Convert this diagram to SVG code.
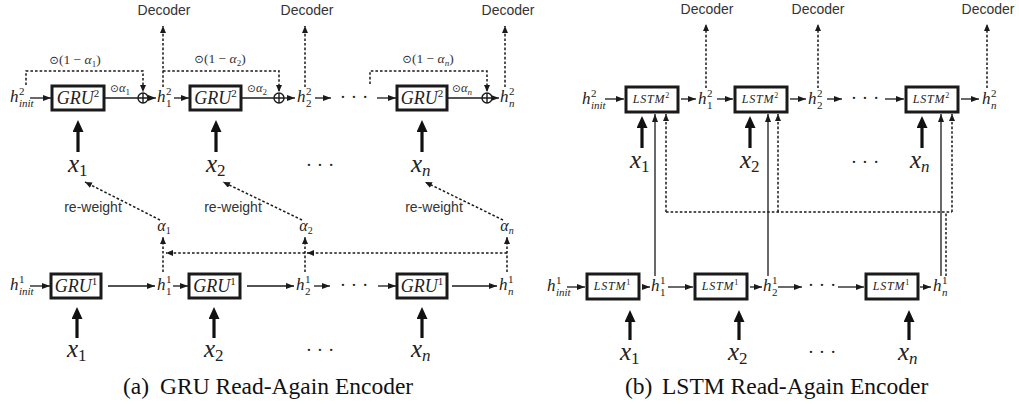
<svg xmlns="http://www.w3.org/2000/svg" width="1019" height="404" viewBox="0 0 1019 404">
<style>
.bg{fill:#fff}
.box{fill:#fff;stroke:#1a1a1a;stroke-width:3}
.ln{fill:none;stroke:#1a1a1a;stroke-width:1.3}
.dl{fill:none;stroke:#1a1a1a;stroke-width:1.5;stroke-dasharray:2.6 2}
.tk{fill:none;stroke:#111;stroke-width:3.2}
.op{fill:#fff;stroke:#1a1a1a;stroke-width:1.4}
text{fill:#222}
.m{font-family:"Liberation Serif",serif;font-style:italic;font-size:17px}
.sp{font-family:"Liberation Serif",serif;font-style:normal;font-size:11px}
.spi{font-family:"Liberation Serif",serif;font-style:italic;font-size:11px}
.bx{font-family:"Liberation Serif",serif;font-style:italic;font-size:18px;text-anchor:middle}
.bxs{font-style:normal;font-size:11px}
.ls{font-family:"Liberation Serif",serif;font-style:italic;font-size:12px;letter-spacing:0.8px;text-anchor:middle}
.lss{font-style:normal;font-size:8px;letter-spacing:0}
.xv{font-family:"Liberation Serif",serif;font-style:italic;font-size:25px}
.xs{font-style:normal;font-size:17px}
.xsi{font-style:italic;font-size:17px}
.sans{font-family:"Liberation Sans",Arial,sans-serif;font-size:14px;fill:#333;text-anchor:middle}
.lab{font-family:"Liberation Serif",serif;font-size:13.5px;fill:#333;text-anchor:middle}
.lab2{font-family:"Liberation Serif",serif;font-size:12.5px;fill:#333}
.dj{font-family:"DejaVu Sans",sans-serif;font-size:0.85em}
.it{font-style:italic}
.sub{font-size:9px}
.al{font-family:"Liberation Serif",serif;font-style:italic;font-size:16px;text-anchor:middle}
.als{font-style:normal;font-size:10px}
.alsi{font-style:italic;font-size:10px}
.dots{font-family:"Liberation Serif",serif;font-size:19px;text-anchor:middle}
.cap{font-family:"Liberation Serif","Times New Roman",serif;font-size:23.5px;fill:#111}
</style>
<defs>
<marker id="ah" viewBox="0 0 8 6" refX="8" refY="3" markerWidth="8" markerHeight="6" orient="auto" markerUnits="userSpaceOnUse"><path d="M0,0 L8,3 L0,6 z" fill="#1a1a1a"/></marker>
<marker id="ahd" viewBox="0 0 7 6" refX="7" refY="3" markerWidth="7" markerHeight="6" orient="auto" markerUnits="userSpaceOnUse"><path d="M0,0 L7,3 L0,6 z" fill="#1a1a1a"/></marker>
<marker id="aht" viewBox="0 0 12 11" refX="1" refY="5.5" markerWidth="12" markerHeight="11" orient="auto" markerUnits="userSpaceOnUse"><path d="M0,0 L12,5.5 L0,11 z" fill="#111"/></marker>
</defs>
<rect class="bg" x="0" y="0" width="1019" height="404"/>

<g id="connectors">
<!-- (a) top row -->
<path class="ln" d="M30,98 H51" marker-end="url(#ah)"/>
<path class="ln" d="M104,98 H138"/>
<path class="ln" d="M148,98 H156" marker-end="url(#ah)"/>
<path class="ln" d="M174,98 H189" marker-end="url(#ah)"/>
<path class="ln" d="M241,98 H274"/>
<path class="ln" d="M284,98 H295" marker-end="url(#ah)"/>
<path class="ln" d="M315,98 H331" marker-end="url(#ah)"/>
<path class="ln" d="M377,98 H396" marker-end="url(#ah)"/>
<path class="ln" d="M447,98 H482"/>
<path class="ln" d="M492,98 H499" marker-end="url(#ah)"/>
<path class="dl" d="M26,85 V71 H143 V92" marker-end="url(#ahd)"/>
<path class="dl" d="M163,71 H279 V92" marker-end="url(#ahd)"/>
<path class="dl" d="M370,84 V71 H487 V92" marker-end="url(#ahd)"/>
<path class="dl" d="M163,87 V26" marker-end="url(#ahd)"/>
<path class="dl" d="M305,87 V26" marker-end="url(#ahd)"/>
<path class="dl" d="M505,87 V26" marker-end="url(#ahd)"/>
<path class="tk" d="M78,152 V131" marker-end="url(#aht)"/>
<path class="tk" d="M216,152 V131" marker-end="url(#aht)"/>
<path class="tk" d="M422,152 V131" marker-end="url(#aht)"/>
<!-- (a) attention -->
<path class="dl" d="M163,272 V237" marker-end="url(#ahd)"/>
<path class="dl" d="M305,272 V237" marker-end="url(#ahd)"/>
<path class="dl" d="M507,272 V237" marker-end="url(#ahd)"/>
<path class="dl" d="M507,253 H307" marker-end="url(#ahd)"/>
<path class="dl" d="M305,253 H166" marker-end="url(#ahd)"/>
<path class="dl" d="M160,220 L85,182" marker-end="url(#ahd)"/>
<path class="dl" d="M302,220 L223,182" marker-end="url(#ahd)"/>
<path class="dl" d="M503,220 L425,182" marker-end="url(#ahd)"/>
<!-- (a) bottom row -->
<path class="ln" d="M30,286 H50" marker-end="url(#ah)"/>
<path class="ln" d="M108,286 H155" marker-end="url(#ah)"/>
<path class="ln" d="M173,286 H188" marker-end="url(#ah)"/>
<path class="ln" d="M247,286 H294" marker-end="url(#ah)"/>
<path class="ln" d="M314,286 H330" marker-end="url(#ah)"/>
<path class="ln" d="M378,286 H396" marker-end="url(#ah)"/>
<path class="ln" d="M452,286 H497" marker-end="url(#ah)"/>
<path class="tk" d="M77,338 V318" marker-end="url(#aht)"/>
<path class="tk" d="M214,338 V318" marker-end="url(#aht)"/>
<path class="tk" d="M422,338 V318" marker-end="url(#aht)"/>
<!-- (b) top row -->
<path class="ln" d="M605,99 H624" marker-end="url(#ah)"/>
<path class="ln" d="M681,99 H696" marker-end="url(#ah)"/>
<path class="ln" d="M717,99 H733" marker-end="url(#ah)"/>
<path class="ln" d="M790,99 H806" marker-end="url(#ah)"/>
<path class="ln" d="M827,99 H842" marker-end="url(#ah)"/>
<path class="ln" d="M885,99 H904" marker-end="url(#ah)"/>
<path class="ln" d="M961,99 H979" marker-end="url(#ah)"/>
<path class="dl" d="M706,88 V24" marker-end="url(#ahd)"/>
<path class="dl" d="M818,88 V24" marker-end="url(#ahd)"/>
<path class="dl" d="M987,88 V24" marker-end="url(#ahd)"/>
<path class="tk" d="M642,148 V127" marker-end="url(#aht)"/>
<path class="tk" d="M750,148 V127" marker-end="url(#aht)"/>
<path class="tk" d="M922,148 V127" marker-end="url(#aht)"/>
<path class="ln" d="M655,276 V114" marker-end="url(#ah)"/>
<path class="ln" d="M768,276 V114" marker-end="url(#ah)"/>
<path class="ln" d="M941,276 V114" marker-end="url(#ah)"/>
<path class="dl" d="M666,212 H952"/>
<path class="dl" d="M666,212 V114" marker-end="url(#ahd)"/>
<path class="dl" d="M778,212 V114" marker-end="url(#ahd)"/>
<path class="dl" d="M952,212 V114" marker-end="url(#ahd)"/>
<path class="dl" d="M946,276 V212"/>
<!-- (b) bottom row -->
<path class="ln" d="M567,287 H585" marker-end="url(#ah)"/>
<path class="ln" d="M642,287 H650" marker-end="url(#ah)"/>
<path class="ln" d="M668,287 H693" marker-end="url(#ah)"/>
<path class="ln" d="M750,287 H762" marker-end="url(#ah)"/>
<path class="ln" d="M778,287 H802" marker-end="url(#ah)"/>
<path class="ln" d="M838,287 H864" marker-end="url(#ah)"/>
<path class="ln" d="M920,287 H931" marker-end="url(#ah)"/>
<path class="tk" d="M630,340 V321" marker-end="url(#aht)"/>
<path class="tk" d="M739,340 V321" marker-end="url(#aht)"/>
<path class="tk" d="M909,340 V321" marker-end="url(#aht)"/>
</g>

<!-- ===== (a) GRU ===== -->
<g id="a-hinit2"><text class="m" x="10" y="102">h<tspan class="sp" x="19" y="95">2</tspan><tspan class="spi" x="19" y="107">init</tspan></text></g>
<g id="a-gru2-1"><rect class="box" x="52" y="86" width="52" height="24"/><text class="bx" x="78" y="104">GRU<tspan class="bxs" dy="-7">2</tspan></text></g>
<g id="a-gru2-2"><rect class="box" x="190" y="86" width="51" height="24"/><text class="bx" x="215.5" y="104">GRU<tspan class="bxs" dy="-7">2</tspan></text></g>
<g id="a-gru2-3"><rect class="box" x="397" y="86" width="50" height="24"/><text class="bx" x="422" y="104">GRU<tspan class="bxs" dy="-7">2</tspan></text></g>
<g id="a-plus1"><circle class="op" cx="143" cy="98" r="5"/><path class="op" d="M138,98 H148 M143,93 V103"/></g>
<g id="a-plus2"><circle class="op" cx="279" cy="98" r="5"/><path class="op" d="M274,98 H284 M279,93 V103"/></g>
<g id="a-plusn"><circle class="op" cx="487" cy="98" r="5"/><path class="op" d="M482,98 H492 M487,93 V103"/></g>
<g id="a-h12"><text class="m" x="157" y="102">h<tspan class="sp" x="166" y="95">2</tspan><tspan class="sp" x="166" y="107">1</tspan></text></g>
<g id="a-h22"><text class="m" x="297" y="102">h<tspan class="sp" x="306" y="95">2</tspan><tspan class="sp" x="306" y="107">2</tspan></text></g>
<g id="a-hn2"><text class="m" x="500" y="102">h<tspan class="sp" x="509" y="95">2</tspan><tspan class="spi" x="509" y="107">n</tspan></text></g>
<g id="a-dots-top"><text class="dots" x="354" y="103">· · ·</text></g>
<g id="a-lab-w1"><text class="lab2" x="110" y="92"><tspan class="dj">⊙</tspan><tspan class="it">α</tspan><tspan class="sub" dy="2.5">1</tspan></text></g>
<g id="a-lab-w2"><text class="lab2" x="247" y="92"><tspan class="dj">⊙</tspan><tspan class="it">α</tspan><tspan class="sub" dy="2.5">2</tspan></text></g>
<g id="a-lab-wn"><text class="lab2" x="452" y="92"><tspan class="dj">⊙</tspan><tspan class="it">α</tspan><tspan class="sub it" dy="2.5">n</tspan></text></g>
<g id="a-lab-c1"><text class="lab" x="75" y="64"><tspan class="dj">⊙</tspan>(1 − <tspan class="it">α</tspan><tspan class="sub" dy="3">1</tspan><tspan dy="-3">)</tspan></text></g>
<g id="a-lab-c2"><text class="lab" x="220" y="63"><tspan class="dj">⊙</tspan>(1 − <tspan class="it">α</tspan><tspan class="sub" dy="3">2</tspan><tspan dy="-3">)</tspan></text></g>
<g id="a-lab-cn"><text class="lab" x="428" y="63"><tspan class="dj">⊙</tspan>(1 − <tspan class="it">α</tspan><tspan class="sub it" dy="3">n</tspan><tspan dy="-3">)</tspan></text></g>
<g id="a-dec1"><text class="sans" x="164" y="15">Decoder</text></g>
<g id="a-dec2"><text class="sans" x="307" y="15">Decoder</text></g>
<g id="a-decn"><text class="sans" x="508" y="15">Decoder</text></g>
<g id="a-x1t"><text class="xv" x="68" y="172">x<tspan class="xs" dy="4">1</tspan></text></g>
<g id="a-x2t"><text class="xv" x="206" y="172">x<tspan class="xs" dy="4">2</tspan></text></g>
<g id="a-xnt"><text class="xv" x="411" y="172">x<tspan class="xsi" dy="4">n</tspan></text></g>
<g id="a-dots-x"><text class="dots" x="320" y="171">· · ·</text></g>
<g id="a-rw1"><text class="sans" x="93" y="212">re-weight</text></g>
<g id="a-rw2"><text class="sans" x="233" y="212">re-weight</text></g>
<g id="a-rwn"><text class="sans" x="434" y="212">re-weight</text></g>
<g id="a-al1"><text class="al" x="164" y="231">α<tspan class="als" dy="3">1</tspan></text></g>
<g id="a-al2"><text class="al" x="306" y="231">α<tspan class="als" dy="3">2</tspan></text></g>
<g id="a-aln"><text class="al" x="507" y="231">α<tspan class="alsi" dy="3">n</tspan></text></g>
<g id="a-hinit1"><text class="m" x="10" y="290">h<tspan class="sp" x="19" y="283">1</tspan><tspan class="spi" x="19" y="295">init</tspan></text></g>
<g id="a-gru1-1"><rect class="box" x="51" y="274" width="50" height="24"/><text class="bx" x="76" y="292">GRU<tspan class="bxs" dy="-7">1</tspan></text></g>
<g id="a-gru1-2"><rect class="box" x="189" y="274" width="51" height="24"/><text class="bx" x="214.5" y="292">GRU<tspan class="bxs" dy="-7">1</tspan></text></g>
<g id="a-gru1-3"><rect class="box" x="397" y="274" width="50" height="24"/><text class="bx" x="422" y="292">GRU<tspan class="bxs" dy="-7">1</tspan></text></g>
<g id="a-h11"><text class="m" x="157" y="290">h<tspan class="sp" x="166" y="283">1</tspan><tspan class="sp" x="166" y="295">1</tspan></text></g>
<g id="a-h21"><text class="m" x="296" y="290">h<tspan class="sp" x="305" y="283">1</tspan><tspan class="sp" x="305" y="295">2</tspan></text></g>
<g id="a-hn1"><text class="m" x="499" y="290">h<tspan class="sp" x="508" y="283">1</tspan><tspan class="spi" x="508" y="295">n</tspan></text></g>
<g id="a-dots-bot"><text class="dots" x="354" y="291">· · ·</text></g>
<g id="a-x1b"><text class="xv" x="67" y="357">x<tspan class="xs" dy="4">1</tspan></text></g>
<g id="a-x2b"><text class="xv" x="204" y="357">x<tspan class="xs" dy="4">2</tspan></text></g>
<g id="a-xnb"><text class="xv" x="411" y="357">x<tspan class="xsi" dy="4">n</tspan></text></g>
<g id="a-dots-xb"><text class="dots" x="320" y="356">· · ·</text></g>
<g id="a-caption"><text class="cap" x="123" y="394">(a)</text><text class="cap" x="160" y="394">GRU Read-Again Encoder</text></g>

<!-- ===== (b) LSTM ===== -->
<g id="b-hinit2"><text class="m" x="582" y="104">h<tspan class="sp" x="591" y="97">2</tspan><tspan class="spi" x="591" y="109">init</tspan></text></g>
<g id="b-lstm2-1"><rect class="box" x="626" y="87" width="52" height="25"/><text class="ls" x="651" y="103">LSTM<tspan class="lss" dy="-5">2</tspan></text></g>
<g id="b-lstm2-2"><rect class="box" x="735" y="87" width="52" height="25"/><text class="ls" x="760" y="103">LSTM<tspan class="lss" dy="-5">2</tspan></text></g>
<g id="b-lstm2-3"><rect class="box" x="906" y="87" width="52" height="25"/><text class="ls" x="931" y="103">LSTM<tspan class="lss" dy="-5">2</tspan></text></g>
<g id="b-h12"><text class="m" x="698" y="104">h<tspan class="sp" x="707" y="97">2</tspan><tspan class="sp" x="707" y="109">1</tspan></text></g>
<g id="b-h22"><text class="m" x="808" y="104">h<tspan class="sp" x="817" y="97">2</tspan><tspan class="sp" x="817" y="109">2</tspan></text></g>
<g id="b-hn2"><text class="m" x="982" y="104">h<tspan class="sp" x="991" y="97">2</tspan><tspan class="spi" x="991" y="109">n</tspan></text></g>
<g id="b-dots-top"><text class="dots" x="865" y="104">· · ·</text></g>
<g id="b-dec1"><text class="sans" x="707" y="14">Decoder</text></g>
<g id="b-dec2"><text class="sans" x="818" y="14">Decoder</text></g>
<g id="b-decn"><text class="sans" x="988" y="14">Decoder</text></g>
<g id="b-x1t"><text class="xv" x="630" y="168">x<tspan class="xs" dy="4">1</tspan></text></g>
<g id="b-x2t"><text class="xv" x="740" y="168">x<tspan class="xs" dy="4">2</tspan></text></g>
<g id="b-xnt"><text class="xv" x="910" y="168">x<tspan class="xsi" dy="4">n</tspan></text></g>
<g id="b-dots-x"><text class="dots" x="865" y="168">· · ·</text></g>
<g id="b-hinit1"><text class="m" x="547" y="291">h<tspan class="sp" x="556" y="284">1</tspan><tspan class="spi" x="556" y="296">init</tspan></text></g>
<g id="b-lstm1-1"><rect class="box" x="587" y="274" width="52" height="25"/><text class="ls" x="612" y="290">LSTM<tspan class="lss" dy="-5">1</tspan></text></g>
<g id="b-lstm1-2"><rect class="box" x="695" y="274" width="52" height="25"/><text class="ls" x="720" y="290">LSTM<tspan class="lss" dy="-5">1</tspan></text></g>
<g id="b-lstm1-3"><rect class="box" x="866" y="274" width="52" height="25"/><text class="ls" x="891" y="290">LSTM<tspan class="lss" dy="-5">1</tspan></text></g>
<g id="b-h11"><text class="m" x="651" y="291">h<tspan class="sp" x="660" y="284">1</tspan><tspan class="sp" x="660" y="296">1</tspan></text></g>
<g id="b-h21"><text class="m" x="763" y="291">h<tspan class="sp" x="772" y="284">1</tspan><tspan class="sp" x="772" y="296">2</tspan></text></g>
<g id="b-hn1"><text class="m" x="933" y="291">h<tspan class="sp" x="942" y="284">1</tspan><tspan class="spi" x="942" y="296">n</tspan></text></g>
<g id="b-dots-bot"><text class="dots" x="822" y="291">· · ·</text></g>
<g id="b-x1b"><text class="xv" x="620" y="360">x<tspan class="xs" dy="4">1</tspan></text></g>
<g id="b-x2b"><text class="xv" x="728" y="360">x<tspan class="xs" dy="4">2</tspan></text></g>
<g id="b-xnb"><text class="xv" x="898" y="360">x<tspan class="xsi" dy="4">n</tspan></text></g>
<g id="b-dots-xb"><text class="dots" x="822" y="358">· · ·</text></g>
<g id="b-caption"><text class="cap" x="625" y="394">(b)</text><text class="cap" x="662" y="394">LSTM Read-Again Encoder</text></g>
</svg>
